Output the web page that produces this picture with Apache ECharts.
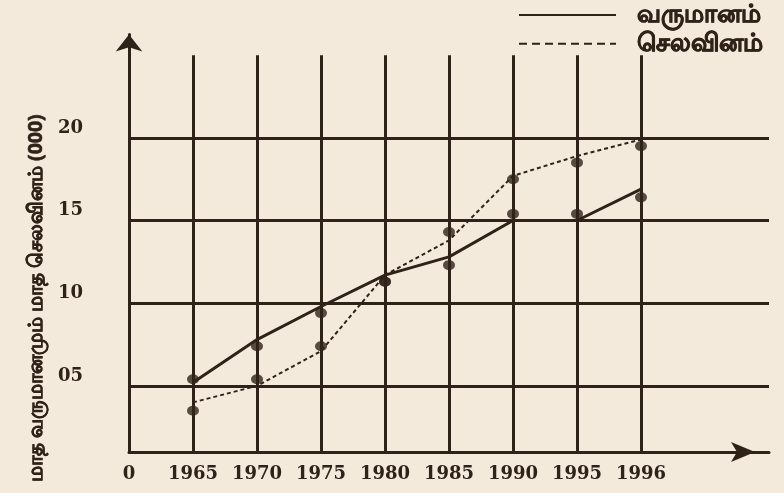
<!DOCTYPE html>
<html>
<head>
<meta charset="utf-8">
<script src="https://cdn.jsdelivr.net/npm/echarts@6/dist/echarts.min.js"></script>
<style>
html,body{margin:0;padding:0;background:#f4eadb;}
#c{width:784px;height:493px;}
</style>
</head>
<body>
<div id="c"></div>
<script>
// ---- data ----
var categories = ['0', '1965', '1970', '1975', '1980', '1985', '1990', '1995', '1996', '', ''];
var incomeName = 'வருமானம்';
var expenseName = 'செலவினம்';
var yAxisName = 'மாத வருமானமும் மாத செலவினம் (000)';
// lines as drawn
var incomeLine  = [null, 5.2, 7.8, 9.8, 11.7, 12.8, 15.0, 15.0, 16.9];
var expenseLine = [null, 4.0, 5.0, 7.1, 11.7, 13.8, 17.7, 18.9, 19.9];
// plotted dots
var incomeDots  = [null, 5.4, 7.4, 9.4, 11.3, 12.3, 15.4, 15.4, 16.4];
var expenseDots = [null, 3.5, 5.4, 7.4, 11.3, 14.3, 17.5, 18.5, 19.5];
var yTicks = [5, 10, 15, 20];
var gridCats = ['1965', '1970', '1975', '1980', '1985', '1990', '1995', '1996'];

var ink = '#2f2219';
var numFont = 'DejaVu Serif';
var tamilFont = 'Noto Sans, sans-serif';

var chart = echarts.init(document.getElementById('c'));
var yMin = 1, yMax = 26.25, gridTopVal = 25;

var vLines = gridCats.map(function (c) {
  return [{coord: [c, yMin]}, {coord: [c, gridTopVal]}];
});
var hLines = yTicks.map(function (v) { return {yAxis: v}; });

chart.setOption({
  backgroundColor: '#f4eadb',
  animation: false,
  grid: {left: 129, right: 15, top: 34.5, bottom: 41},
  legend: {
    orient: 'vertical',
    left: 513, top: -3,
    itemWidth: 97, itemHeight: 12, itemGap: 3,
    data: [
      {name: incomeName},
      {name: expenseName, lineStyle: {type: [8, 5], width: 2}}
    ],
    itemStyle: {color: 'rgba(0,0,0,0)', borderWidth: 0},
    textStyle: {fontFamily: tamilFont, fontSize: 25, fontWeight: 'bold', color: ink,
      textBorderColor: ink, textBorderWidth: 0.8, padding: [0, 0, 0, 16]}
  },
  xAxis: {
    type: 'category',
    boundaryGap: false,
    data: categories,
    axisLine: {show: true, symbol: ['none', 'arrow'], symbolSize: [15, 24], symbolOffset: [0, -14],
      lineStyle: {color: ink, width: 3}},
    axisTick: {show: false},
    splitLine: {show: false},
    axisLabel: {color: ink, fontFamily: numFont, fontWeight: 'bold', fontSize: 18, margin: 13, interval: 0}
  },
  yAxis: {
    type: 'value',
    min: yMin, max: yMax,
    name: yAxisName,
    nameLocation: 'middle',
    nameRotate: 90,
    nameGap: 81,
    nameTextStyle: {fontFamily: tamilFont, fontSize: 19.5, fontWeight: 'bold', color: ink,
      textBorderColor: ink, textBorderWidth: 0.6, padding: [0, 110, 0, 0]},
    axisLine: {show: true, symbol: ['none', 'arrow'], symbolSize: [20, 17],
      lineStyle: {color: ink, width: 3}},
    axisTick: {show: false},
    splitLine: {show: false},
    axisLabel: {
      customValues: yTicks,
      margin: 46,
      color: ink, fontFamily: numFont, fontWeight: 'bold', fontSize: 18,
      verticalAlign: 'bottom',
      padding: [0, 0, 1, 0],
      formatter: function (v) { return (v < 10 ? '0' : '') + v; }
    }
  },
  series: [
    {
      name: 'grid', type: 'line', data: [], silent: true, z: 1,
      markLine: {
        silent: true, symbol: 'none', label: {show: false},
        lineStyle: {color: ink, width: 3, type: 'solid'},
        data: vLines.concat(hLines)
      }
    },
    {
      name: incomeName, type: 'line', data: incomeLine, symbol: 'none', z: 3,
      lineStyle: {color: ink, width: 3, type: 'solid'}, itemStyle: {color: ink}
    },
    {
      name: expenseName, type: 'line', data: expenseLine, symbol: 'none', z: 3,
      lineStyle: {color: ink, width: 2, type: [4, 3]}, itemStyle: {color: ink}
    },
    {
      name: 'incomeDots', type: 'scatter', data: incomeDots, symbolSize: [12, 10], z: 4,
      itemStyle: {color: ink}
    },
    {
      name: 'expenseDots', type: 'scatter', data: expenseDots, symbolSize: [12, 10], z: 4,
      itemStyle: {color: ink}
    }
  ]
});
</script>
</body>
</html>
